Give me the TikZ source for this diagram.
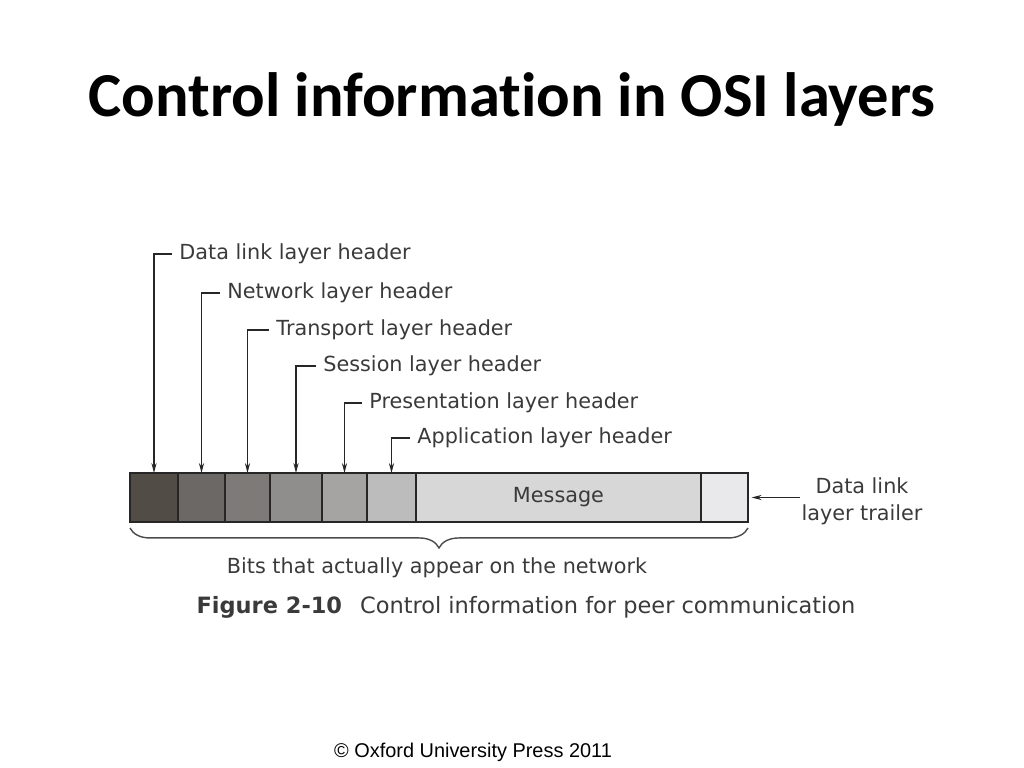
\documentclass[tikz,border=0pt]{standalone}
\usepackage{fontspec}
\setmainfont{DejaVu Sans}
\newfontfamily\titlefont[Ligatures=NoCommon]{Carlito}
\newfontfamily\notefont{Liberation Sans}
\usetikzlibrary{positioning,arrows.meta,decorations.pathreplacing,calc}
\definecolor{osidl}{HTML}{524C47}
\definecolor{osinw}{HTML}{6B6865}
\definecolor{ositp}{HTML}{7D7A78}
\definecolor{osiss}{HTML}{8F8E8D}
\definecolor{osipr}{HTML}{A5A4A3}
\definecolor{osiap}{HTML}{BCBCBC}
\definecolor{osimsg}{HTML}{D7D7D7}
\definecolor{ositrl}{HTML}{E9E9EB}
\definecolor{ositext}{HTML}{3A3A3A}
\begin{document}
\begin{tikzpicture}[x=0.703125pt, y=-0.703125pt,
    cell/.style={draw=black!85, line width=1.2pt, minimum height=34.45pt, inner sep=0pt, outer sep=0pt,
        font=\fontsize{14.6}{17}\selectfont, text=ositext},
    hdrlabel/.style={anchor=west, inner xsep=5pt, inner ysep=0pt,
        font=\fontsize{14.6}{17}\selectfont, text=ositext},
    hdrarrow/.style={-{Stealth[length=7pt,width=3.6pt]}, line width=0.9pt, draw=black!85}]
    \useasboundingbox (0,0) rectangle (1024,768);

    % Title
    \node[font=\titlefont\bfseries\fontsize{44}{52}\selectfont, anchor=base] (title) at (512,117) {Control information in OSI layers};

    % Bar of headers, message and trailer
    \node[cell, fill=osidl, minimum width=33.75pt, anchor=north west] (dlh) at (130,473) {};
    \node[cell, fill=osinw, minimum width=33.05pt, right=0pt of dlh] (nwh) {};
    \node[cell, fill=ositp, minimum width=31.64pt, right=0pt of nwh] (tph) {};
    \node[cell, fill=osiss, minimum width=36.56pt, right=0pt of tph] (ssh) {};
    \node[cell, fill=osipr, minimum width=31.64pt, right=0pt of ssh] (prh) {};
    \node[cell, fill=osiap, minimum width=34.45pt, right=0pt of prh] (aph) {};
    \node[cell, fill=osimsg, minimum width=200.39pt, right=0pt of aph] (msg) {Message};
    \node[cell, fill=ositrl, minimum width=33.05pt, right=0pt of msg] (dlt) {};

    % Header labels
    \node[hdrlabel] (dlhlabel) at (172,254) {Data link layer header};
    \node[hdrlabel] (nwhlabel) at (220,293) {Network layer header};
    \node[hdrlabel] (tphlabel) at (269,330) {Transport layer header};
    \node[hdrlabel] (sshlabel) at (316,366) {Session layer header};
    \node[hdrlabel] (prhlabel) at (362,403) {Presentation layer header};
    \node[hdrlabel] (aphlabel) at (410,438) {Application layer header};

    % Arrows down to the bar
    \draw[hdrarrow] (dlhlabel.west) -| (dlh.north);
    \draw[hdrarrow] (nwhlabel.west) -| (nwh.north);
    \draw[hdrarrow] (tphlabel.west) -| (tph.north);
    \draw[hdrarrow] (sshlabel.west) -| (ssh.north);
    \draw[hdrarrow] (prhlabel.west) -| (prh.north);
    \draw[hdrarrow] (aphlabel.west) -| (aph.north);

    % Trailer
    \node[align=center, inner xsep=1pt, font=\fontsize{14.6}{19}\selectfont, text=ositext] (dltlabel) at (862,501) {Data link\\layer trailer};
    \draw[hdrarrow, shorten >=2.5pt] (dltlabel.west |- dlt.east) -- (dlt.east);

    % Brace and captions
    \draw[decorate, decoration={brace, mirror, amplitude=14pt}, line width=1pt, draw=black!70]
        ($(dlh.south west)+(0,6)$) -- ($(dlt.south east)+(0,6)$);
    \node[font=\fontsize{14.6}{17}\selectfont, text=ositext] (bitslabel) at (437,568) {Bits that actually appear on the network};
    \node[font=\fontsize{15.8}{18}\selectfont, text=ositext] (figcaption) at (526,607) {\textbf{Figure 2-10}\hspace{0.8em}Control information for peer communication};

    % Footer
    \node[font=\notefont\fontsize{14}{16}\selectfont] (copyright) at (473,752) {\textcopyright{} Oxford University Press 2011};
\end{tikzpicture}
\end{document}
